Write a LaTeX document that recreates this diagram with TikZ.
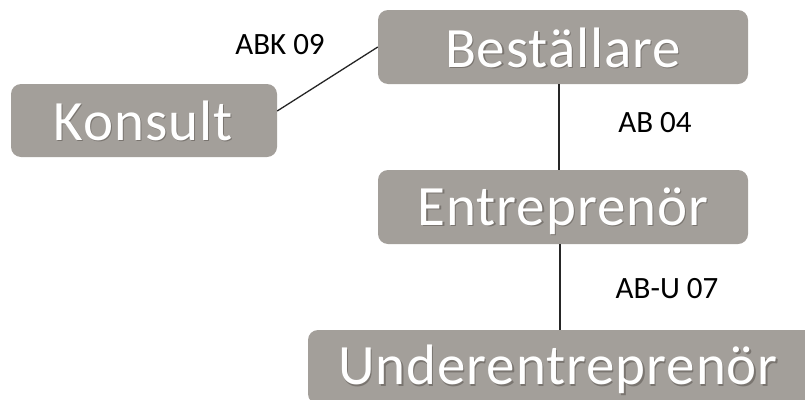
\documentclass[tikz,border=0pt]{standalone}
\usepackage{fontspec}
\setmainfont{Carlito}
\newfontfamily\rolefont[LetterSpace=1.6]{Carlito}
\definecolor{boxgrey}{RGB}{163,159,154}
\definecolor{txtshadow}{RGB}{95,90,85}
\tikzset{
  role/.style={fill=boxgrey, rounded corners=10pt, inner sep=0pt},
  rolename/.style={text=white, font=\rolefont\fontsize{57}{60}\selectfont,
    text height=36.7pt, text depth=0pt, inner sep=0pt},
  roleshadow/.style={rolename, text=txtshadow, opacity=0.6},
  contract/.style={font=\fontsize{31}{34}\selectfont, text=black,
    text height=20pt, text depth=0pt, inner sep=0pt},
  link/.style={draw=black!85, line width=1.3pt}
}
\newcommand{\rolebox}[7]{%
  % #1 name, #2 x-left, #3 y-top, #4 x-right, #5 y-bottom, #6 text centre, #7 text
  \node[role, minimum width=#4pt-#2pt, minimum height=#5pt-#3pt]
    (#1) at ({(#2+#4)/2},{(#3+#5)/2}) {};
  \node[roleshadow] at ([xshift=1.2pt,yshift=-1.2pt]#6) {#7};
  \node[rolename] (#1-t) at (#6) {#7};
}
\begin{document}
\begin{tikzpicture}[x=1pt,y=-1pt]
  \useasboundingbox (0,0) rectangle (805,399);
  % roles
  \rolebox{best}{378}{10}{748}{84}{563,49}{Beställare}
  \rolebox{kons}{11}{84}{277}{157}{143,122}{Konsult}
  \rolebox{entr}{378}{170}{748}{244}{563,207}{Entreprenör}
  \rolebox{under}{308}{330}{830}{404}{558,366.5}{Underentreprenör}
  % contract links
  \draw[link] (kons.east |- 0,111) -- (best.west |- 0,47);
  \draw[link] (best.south -| 559,0) -- (entr.north -| 559,0);
  \draw[link] (entr.south -| 560,0) -- (under.north -| 560,0);
  % contract labels
  \node[contract] (l1) at (280,44) {ABK 09};
  \node[contract] (l2) at (655,122) {AB 04};
  \node[contract] (l3) at (667,288) {AB-U 07};
\end{tikzpicture}
\end{document}
